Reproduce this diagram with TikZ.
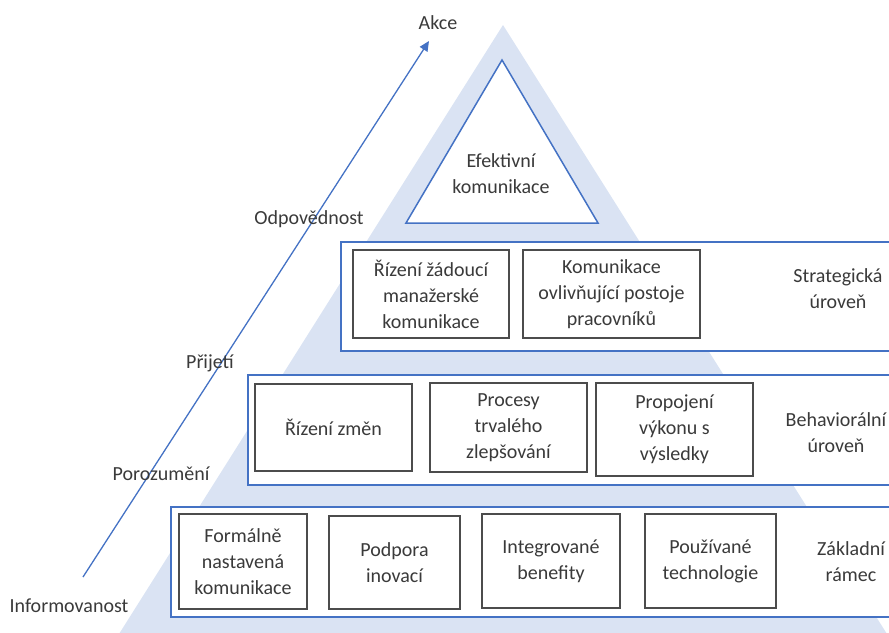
\documentclass[tikz,border=0pt]{standalone}
\usepackage{fontspec}
\setmainfont{Carlito}
\usetikzlibrary{arrows.meta}

\definecolor{modra}{HTML}{4472C4}
\definecolor{svetlemodra}{HTML}{DAE3F3}
\definecolor{text}{HTML}{3A3A3A}

\begin{document}
\begin{tikzpicture}[x=0.5pt, y=-0.5pt,
        font=\fontsize{10}{13}\selectfont, text=text,
        pas/.style={draw=modra, line width=0.75pt, fill=white},
        ramecek/.style 2 args={draw=black!70, line width=0.9pt, fill=white,
            align=center, inner sep=0pt,
            minimum width=#1*0.5pt, minimum height=#2*0.5pt},
        popis/.style={align=center, inner sep=1pt},
        sipka/.style={draw=modra, line width=0.65pt,
            -{Triangle[length=5pt, width=4.5pt]}}]
        \useasboundingbox (0,0) rectangle (889,632);
        \clip (0,0) rectangle (889,632);

        % pyramida
        \fill[svetlemodra] (503,25) -- (916,680) -- (90,680) -- cycle;
        \draw[draw=modra, line width=0.75pt, fill=white]
        (502,60) coordinate (V) -- (598,223) coordinate (P) -- (406,223) coordinate (L) -- cycle;
        \node[popis] (efekt) at (501,174) {Efektivní\\komunikace};

        % strategická úroveň
        \draw[pas] (341,242) rectangle (895,351);
        \node[ramecek={156}{88}] (s1) at (431,294) {Řízení žádoucí\\manažerské\\komunikace};
        \node[ramecek={177}{88}] (s2) at (611.5,294) {Komunikace\\ovlivňující postoje\\pracovníků};
        \node[popis] (strat) at (838,289) {Strategická\\úroveň};

        % behaviorální úroveň
        \draw[pas] (248,375) rectangle (895,485);
        \node[ramecek={157}{87}] (b1) at (333.5,427.5) {Řízení změn};
        \node[ramecek={157}{89}] (b2) at (508.5,427.5) {Procesy\\trvalého\\zlepšování};
        \node[ramecek={157}{93}] (b3) at (674.5,429.5) {Propojení\\výkonu s\\výsledky};
        \node[popis] (behav) at (836,433) {Behaviorální\\úroveň};

        % základní rámec
        \draw[pas] (171,507) rectangle (895,617);
        \node[ramecek={128}{95}] (f1) at (243,561.5) {Formálně\\nastavená\\komunikace};
        \node[ramecek={131}{93}] (f2) at (394.5,562.5) {Podpora\\inovací};
        \node[ramecek={138}{94}] (f3) at (551,561) {Integrované\\benefity};
        \node[ramecek={131}{94}] (f4) at (710.5,561) {Používané\\technologie};
        \node[popis] (zaklad) at (851,562) {Základní\\rámec};

        % šipka a stupně
        \coordinate (start) at (83,577);
        \coordinate (cil) at (429,41);
        \draw[sipka] (start) -- (cil);
        \node[popis] (akce) at (438,23) {Akce};
        \node[popis] (odp) at (309,219) {Odpovědnost};
        \node[popis] (prij) at (210,363) {Přijetí};
        \node[popis] (poroz) at (161,474) {Porozumění};
        \node[popis] (inform) at (69,606) {Informovanost};
    \end{tikzpicture}
\end{document}
